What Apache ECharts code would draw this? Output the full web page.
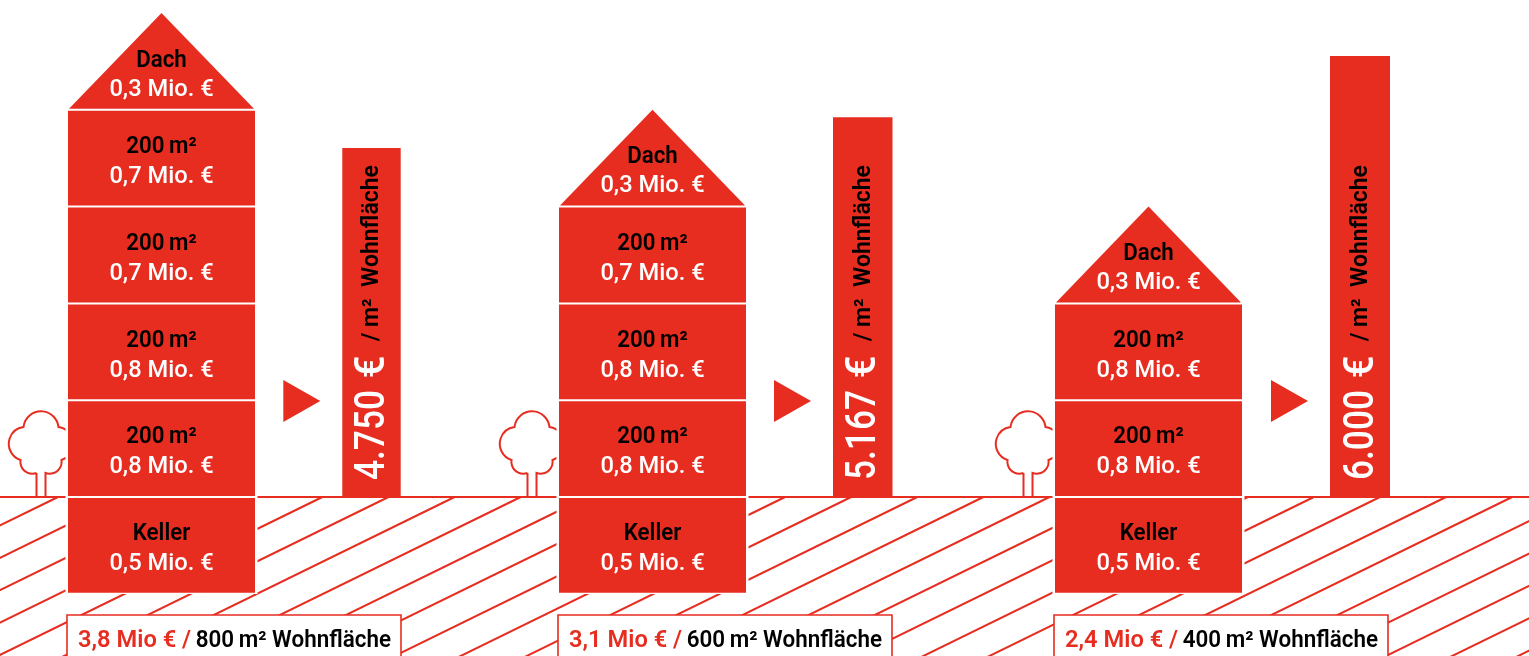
<!DOCTYPE html>
<html>
<head>
<meta charset="utf-8">
<style>html,body{margin:0;padding:0;background:#fff}#c{width:1529px;height:656px}</style>
<script src="https://cdn.jsdelivr.net/npm/echarts@6/dist/echarts.min.js"></script>
</head>
<body>
<div id="c"></div>
<script>
// Three building variants: cost per storey and the resulting price per m² of living space.
const buildings = ['A', 'B', 'C'];
const storeyRooms = [
  ['Keller', '200\u2009m²', '200\u2009m²', '200\u2009m²', '200\u2009m²'],
  ['Keller', '200\u2009m²', '200\u2009m²', '200\u2009m²'],
  ['Keller', '200\u2009m²', '200\u2009m²']
];
const storeyCosts = [
  ['0,5', '0,8', '0,8', '0,7', '0,7'],
  ['0,5', '0,8', '0,8', '0,7'],
  ['0,5', '0,8', '0,8']
];
const roofCost = ['0,3', '0,3', '0,3'];
const pricePerSqm = [4750, 5167, 6000];
const priceLabels = ['4.750', '5.167', '6.000'];
const totalCost = ['3,8', '3,1', '2,4'];
const totalArea = ['800', '600', '400'];

// Page layout
const RED = '#E62D20';
const FONT = 'Roboto, sans-serif';
const DARK_FONT = '600 23px ' + FONT;
const houseLeft = [68, 559, 1055];
const barLeft = [342.3, 833, 1330];
const barWidth = [58.4, 59.5, 60];
const HOUSE_W = 187;
const W = 1529, H = 656;

const chart = echarts.init(document.getElementById('c'), null, {renderer: 'canvas'});

function label(x, y, text, fill, dark) {
  return {type: 'text', x, y, scaleX: dark ? 0.97 : 1.03, style: {
    text, fill, font: dark ? DARK_FONT : '500 23px ' + FONT, align: 'center', verticalAlign: 'middle'
  }};
}

function houseItem(params, api) {
  const i = api.value(0);
  const x0 = houseLeft[i], x1 = x0 + HOUSE_W, mid = x0 + HOUSE_W / 2;
  const kids = [];
  const rooms = storeyRooms[i], costs = storeyCosts[i];
  rooms.forEach((room, s) => {
    const top = api.coord([x0, s]);
    const bot = api.coord([x1, s - 1]);
    kids.push({type: 'rect', shape: {x: top[0], y: top[1] + 1, width: bot[0] - top[0], height: bot[1] - top[1] - 2},
      style: {fill: RED}});
    const cy = (top[1] + bot[1]) / 2;
    kids.push(label(mid, cy - 11, room, '#000', true));
    kids.push(label(mid, cy + 19, costs[s] + ' Mio. €', '#fff', false));
  });
  const base = api.coord([x0, rooms.length - 1]);
  const tip = api.coord([mid, rooms.length]);
  kids.push({type: 'polygon', shape: {points: [[x0 + 1, base[1] - 1], [mid, tip[1]], [x1 - 1, base[1] - 1]]}, style: {fill: RED}});
  kids.push(label(mid, base[1] - 49, 'Dach', '#000', true));
  kids.push(label(mid, base[1] - 20, roofCost[i] + ' Mio. €', '#fff', false));
  return {type: 'group', children: kids};
}

function priceItem(params, api) {
  const i = api.value(0), v = api.value(1);
  const x0 = barLeft[i], w = barWidth[i];
  const top = api.coord([x0, v]);
  const bot = api.coord([x0 + w, 0]);
  const cx = (top[0] + bot[0]) / 2;
  return {type: 'group', children: [
    {type: 'rect', shape: {x: top[0], y: top[1], width: bot[0] - top[0], height: bot[1] - top[1]}, style: {fill: RED}},
    {type: 'text', x: cx + 2, y: bot[1] - 17, rotation: Math.PI / 2, scaleX: 0.84,
      style: {text: priceLabels[i], align: 'left', verticalAlign: 'middle', fill: '#fff', font: '500 42px ' + FONT}},
    {type: 'text', x: cx + 2, y: bot[1] - 130, rotation: Math.PI / 2, scaleX: 0.95,
      style: {text: '€', align: 'center', verticalAlign: 'middle', fill: '#fff', font: '500 42px ' + FONT}},
    {type: 'text', x: cx + 1, y: bot[1] - 332, rotation: Math.PI / 2,
      style: {text: '/ m²  Wohnfläche', align: 'right', verticalAlign: 'middle', fill: '#000', font: DARK_FONT}}
  ]};
}

function arrowItem(params, api) {
  const i = api.value(0);
  const p = api.coord([barLeft[i] - 59, 0]);
  const y = p[1] - 96;
  return {type: 'polygon', shape: {points: [[p[0], y - 21], [p[0] + 37, y], [p[0], y + 21]]}, style: {fill: RED}};
}

// Tree outline, drawn relative to the ground point under the trunk centre
const TREE_PATH = 'M-4.5,-24 A12,12 0 0 1 -20.5,-37 A17,17 0 0 1 -17.5,-70 A17.6,17.6 0 0 1 17.5,-70 ' +
  'A17,17 0 0 1 20.5,-37 A12,12 0 0 1 4.5,-24 L4.5,0 M-4.5,-24 L-4.5,0';
function treeItem(params, api) {
  const i = api.value(0);
  const p = api.coord([houseLeft[i] - 27, 0]);
  return {type: 'path', x: p[0], y: p[1], shape: {pathData: TREE_PATH},
    style: {fill: null, stroke: RED, lineWidth: 2}};
}

// Diagonal ground hatching
const hatchIndex = [];
for (let k = -1; k < 29; k++) hatchIndex.push(k);
function hatchItem(params, api) {
  const k = api.value(0);
  const g = api.coord([58 + 66.1 * k, 0]);
  const dy = H - g[1] + 2;
  return {type: 'line', shape: {x1: g[0], y1: g[1], x2: g[0] - dy / 0.49, y2: g[1] + dy}, style: {stroke: RED, lineWidth: 2}};
}

// White gap around each house plus the summary box below it
function maskItem(params, api) {
  const i = api.value(0);
  const x0 = houseLeft[i];
  const g = api.coord([x0, 0]);
  return {type: 'group', children: [
    {type: 'rect', shape: {x: x0 - 2.5, y: g[1] - 98, width: HOUSE_W + 5, height: 195}, style: {fill: '#fff'}},
    {type: 'rect', shape: {x: x0 - 1, y: 615, width: 334, height: 60},
      style: {fill: '#fff', stroke: RED, lineWidth: 1.6}},
    {type: 'text', x: x0 + 10, y: 641, scaleX: 1.03, style: {
      text: totalCost[i] + ' Mio € /', fill: RED, font: DARK_FONT, align: 'left', verticalAlign: 'middle'
    }},
    {type: 'text', x: x0 + 323, y: 641, scaleX: 0.975, style: {
      text: totalArea[i] + '\u2009m² Wohnfläche', fill: '#000', font: DARK_FONT, align: 'right', verticalAlign: 'middle'
    }}
  ]};
}

function groundItem(params, api) {
  const a = api.coord([0, 0]);
  return {type: 'line', shape: {x1: 0, y1: a[1], x2: W, y2: a[1]}, style: {stroke: RED, lineWidth: 1.8}};
}

const idx = buildings.map((_, i) => [i]);
chart.setOption({
  animation: false,
  backgroundColor: '#fff',
  grid: {left: 0, right: 0, top: 0, bottom: 0},
  xAxis: {type: 'value', min: 0, max: W, show: false},
  yAxis: [
    // Storeys: ground floor starts at 0, cellar below
    {type: 'value', min: -159 / 96.8, max: 497 / 96.8, show: false},
    // Price per m²
    {type: 'value', min: -159 / 0.0735, max: 497 / 0.0735, show: false}
  ],
  series: [
    {type: 'custom', renderItem: hatchItem, data: hatchIndex.map(k => [k]), z: 1, silent: true, clip: false},
    {type: 'custom', renderItem: groundItem, data: [[0]], z: 2, silent: true},
    {type: 'custom', renderItem: treeItem, data: idx, z: 2, silent: true},
    {type: 'custom', renderItem: maskItem, data: idx, z: 3, silent: true},
    {type: 'custom', renderItem: arrowItem, data: idx, z: 4, silent: true},
    {type: 'custom', renderItem: houseItem, data: idx, z: 5, silent: true},
    {type: 'custom', renderItem: priceItem, yAxisIndex: 1, data: buildings.map((_, i) => [i, pricePerSqm[i]]), z: 5, silent: true}
  ]
});
</script>
</body>
</html>
